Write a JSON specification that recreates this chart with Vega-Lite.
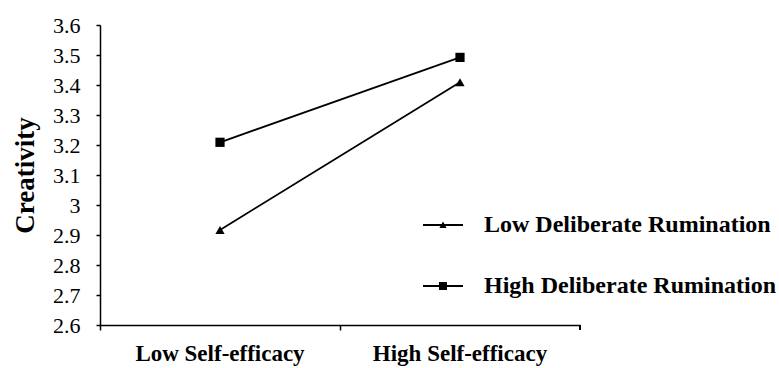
{
  "$schema": "https://vega.github.io/schema/vega-lite/v6.json",
  "width": 480,
  "height": 300,
  "autosize": "none",
  "padding": {"left": 100, "top": 25, "right": 199, "bottom": 43},
  "background": "white",
  "config": {
    "view": {"stroke": null},
    "font": "'Liberation Serif', 'Times New Roman', Times, serif"
  },
  "data": {
    "values": [
      {"efficacy": "Low Self-efficacy", "group": "Low Deliberate Rumination", "creativity": 2.917},
      {"efficacy": "High Self-efficacy", "group": "Low Deliberate Rumination", "creativity": 3.409},
      {"efficacy": "Low Self-efficacy", "group": "High Deliberate Rumination", "creativity": 3.209},
      {"efficacy": "High Self-efficacy", "group": "High Deliberate Rumination", "creativity": 3.492}
    ]
  },
  "encoding": {
    "x": {
      "field": "efficacy",
      "type": "nominal",
      "sort": ["Low Self-efficacy", "High Self-efficacy"],
      "scale": {"type": "band", "paddingInner": 0, "paddingOuter": 0},
      "axis": {
        "title": null,
        "bandPosition": 0,
        "labelAngle": 0,
        "labelFont": "'Liberation Serif', 'Times New Roman', Times, serif",
        "labelFontWeight": "bold",
        "labelFontSize": 23,
        "labelColor": "black",
        "labelPadding": 12,
        "tickSize": 5,
        "tickColor": "black",
        "tickWidth": 1.5,
        "domainColor": "black",
        "domainWidth": 1.5,
        "grid": false
      }
    },
    "y": {
      "field": "creativity",
      "type": "quantitative",
      "scale": {"domain": [2.6, 3.6], "zero": false, "nice": false},
      "axis": {
        "title": "Creativity",
        "titleFont": "'Liberation Serif', 'Times New Roman', Times, serif",
        "titleFontWeight": "bold",
        "titleFontSize": 27,
        "titleColor": "black",
        "titlePadding": 13,
        "values": [2.6, 2.7, 2.8, 2.9, 3.0, 3.1, 3.2, 3.3, 3.4, 3.5, 3.6],
        "format": ".1~f",
        "labelFont": "'Liberation Serif', 'Times New Roman', Times, serif",
        "labelFontSize": 22,
        "labelColor": "black",
        "labelPadding": 16,
        "tickSize": 4,
        "tickColor": "black",
        "tickWidth": 1.5,
        "domainColor": "black",
        "domainWidth": 1.5,
        "grid": false
      }
    }
  },
  "layer": [
    {
      "mark": {"type": "line", "color": "black", "strokeWidth": 1.8},
      "encoding": {"detail": {"field": "group", "type": "nominal"}}
    },
    {
      "mark": {"type": "point", "filled": true, "color": "black", "opacity": 1, "size": 85},
      "encoding": {
        "shape": {
          "field": "group",
          "type": "nominal",
          "scale": {
            "domain": ["Low Deliberate Rumination", "High Deliberate Rumination"],
            "range": ["triangle-up", "square"]
          },
          "legend": null
        }
      }
    },
    {
      "mark": {"type": "point", "filled": true, "color": "black", "opacity": 0, "size": 10},
      "encoding": {
        "shape": {
          "field": "group",
          "type": "nominal",
          "scale": {
            "domain": ["Low Deliberate Rumination", "High Deliberate Rumination"],
            "range": ["M-1,-0.045H1V0.045H-1ZM-0.18,0.15L0,-0.17L0.18,0.15Z", "M-1,-0.045H1V0.045H-1ZM-0.2,-0.2H0.2V0.2H-0.2Z"]
          },
          "legend": {
            "title": null,
            "orient": "none",
            "legendX": 322,
            "legendY": 179,
            "padding": 0,
            "symbolSize": 1600,
            "symbolOpacity": 1,
            "symbolFillColor": "black",
            "rowPadding": 28,
            "labelOffset": 20,
            "labelFont": "'Liberation Serif', 'Times New Roman', Times, serif",
            "labelFontWeight": "bold",
            "labelFontSize": 24,
            "labelColor": "black",
            "labelLimit": 400
          }
        }
      }
    },
    {
      "mark": {"type": "rule", "color": "black", "strokeWidth": 1.5, "clip": false},
      "encoding": {
        "x": {"datum": "High Self-efficacy", "type": "nominal", "bandPosition": 1},
        "y": {"datum": 2.6},
        "y2": {"datum": 2.5833}
      }
    }
  ],
  "resolve": {"scale": {"shape": "independent"}}
}
